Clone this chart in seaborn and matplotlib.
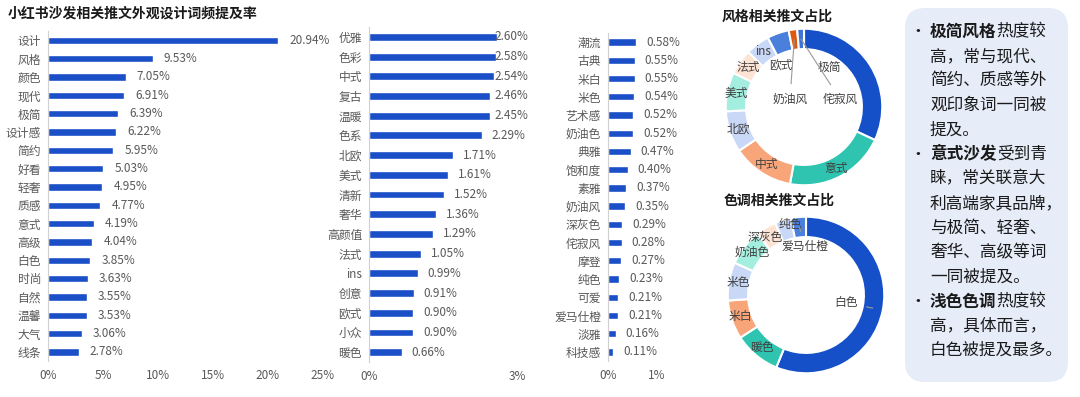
import numpy as np
import matplotlib
matplotlib.use("Agg")
import matplotlib.pyplot as plt
from matplotlib.patches import FancyBboxPatch
import seaborn as sns

# ---- data ----
words_1 = ['设计', '风格', '颜色', '现代', '极简', '设计感', '简约', '好看', '轻奢',
           '质感', '意式', '高级', '白色', '时尚', '自然', '温馨', '大气', '线条']
rates_1 = [20.94, 9.53, 7.05, 6.91, 6.39, 6.22, 5.95, 5.03, 4.95,
           4.77, 4.19, 4.04, 3.85, 3.63, 3.55, 3.53, 3.06, 2.78]

words_2 = ['优雅', '色彩', '中式', '复古', '温暖', '色系', '北欧', '美式', '清新',
           '奢华', '高颜值', '法式', 'ins', '创意', '欧式', '小众', '暖色']
rates_2 = [2.60, 2.58, 2.54, 2.46, 2.45, 2.29, 1.71, 1.61, 1.52,
           1.36, 1.29, 1.05, 0.99, 0.91, 0.90, 0.90, 0.66]

words_3 = ['潮流', '古典', '米白', '米色', '艺术感', '奶油色', '典雅', '饱和度',
           '素雅', '奶油风', '深灰色', '侘寂风', '摩登', '纯色', '可爱', '爱马仕橙',
           '淡雅', '科技感']
rates_3 = [0.58, 0.55, 0.55, 0.54, 0.52, 0.52, 0.47, 0.40,
           0.37, 0.35, 0.29, 0.28, 0.27, 0.23, 0.21, 0.21, 0.16, 0.11]

style_words = ['极简', '意式', '中式', '北欧', '美式', '法式', 'ins', '欧式', '奶油风', '侘寂风']
style_rates = [6.39, 4.19, 2.54, 1.71, 1.61, 1.05, 0.99, 0.90, 0.35, 0.28]

tone_words = ['白色', '暖色', '米白', '米色', '奶油色', '深灰色', '纯色', '爱马仕橙']
tone_rates = [3.85, 0.66, 0.55, 0.54, 0.52, 0.29, 0.23, 0.21]

notes = [
    ('极简风格', ['热度较', '高，常与现代、', '简约、质感等外', '观印象词一同被', '提及。']),
    ('意式沙发', ['受到青', '睐，常关联意大', '利高端家具品牌，', '与极简、轻奢、', '奢华、高级等词', '一同被提及。']),
    ('浅色色调', ['热度较', '高，具体而言，', '白色被提及最多。']),
]

# ---- style ----
sns.set_style('white')
plt.rcParams['font.family'] = ['Noto Sans CJK SC', 'DejaVu Sans']
BAR = '#1a4fc8'
GREY = '#595959'
pie_colors = ['#1650c8', '#2ec4b0', '#f9a57a', '#c9d8f6', '#a3eedf',
              '#fde3d3', '#c9d8f6', '#4a7fdc', '#e0580c', '#3d72d6']

W, H = 1080, 397
fig = plt.figure(figsize=(W / 100, H / 100), dpi=100)


def px_axes(left, top, right, bottom):
    return fig.add_axes([left / W, 1 - bottom / H, (right - left) / W, (bottom - top) / H])


def bar_panel(ax, words, rates, xmax, ticks, pad, cap=None):
    sns.barplot(x=rates, y=words, orient='h', color=BAR, width=0.4,
                saturation=1, ax=ax)
    ax.set_xlim(0, xmax)
    ax.set_xticks(ticks)
    ax.set_xticklabels([f'{t:g}%' for t in ticks])
    ax.set_xlabel('')
    ax.set_ylabel('')
    for s in ['top', 'right', 'bottom']:
        ax.spines[s].set_visible(False)
    ax.spines['left'].set_color('#d0d0d0')
    ax.tick_params(axis='both', length=0, labelsize=8.5, labelcolor=GREY)
    ax.tick_params(axis='x', pad=6)
    ax.tick_params(axis='y', pad=5)
    for i, v in enumerate(rates):
        x = v + pad
        if cap is not None:
            x = min(x, cap)
        ax.text(x, i, f'{v:.2f}%', va='center', ha='left', fontsize=8.5,
                color=GREY, clip_on=False)


ax1 = px_axes(48, 31, 323, 361)
bar_panel(ax1, words_1, rates_1, 25, [0, 5, 10, 15, 20, 25], 1.0)

ax2 = px_axes(369, 27, 517, 362)
bar_panel(ax2, words_2, rates_2, 3, [0, 3], 0.2, cap=2.55)

ax3 = px_axes(608, 33, 657, 361)
bar_panel(ax3, words_3, rates_3, 1, [0, 1], 0.2)


def donut(ax, words, rates, special):
    ax.pie(rates, colors=pie_colors[:len(rates)], startangle=90, counterclock=False,
           wedgeprops=dict(width=0.26, edgecolor='white', linewidth=1.5))
    ax.set_xlim(-1.15, 1.15)
    ax.set_ylim(-1.15, 1.15)
    ax.set_aspect('equal')
    ax.axis('off')
    total = sum(rates)
    cum = np.cumsum(rates) - np.array(rates) / 2
    for w, c in zip(words, cum):
        ang = np.deg2rad(90 - 360 * c / total)
        ring = (0.87 * np.cos(ang), 0.87 * np.sin(ang))
        if w in special:
            pos, line = special[w]
            if line:
                ax.annotate(w, xy=ring, xytext=pos, ha='center', va='center',
                            fontsize=8.5, color='#404040',
                            arrowprops=dict(arrowstyle='-', color='#9a9a9a', lw=0.8,
                                            shrinkA=4, shrinkB=0))
            else:
                ax.text(pos[0], pos[1], w, ha='center', va='center',
                        fontsize=8.5, color='#404040')
        else:
            ax.text(ring[0] * 1.01, ring[1] * 1.01, w, ha='center', va='center',
                    fontsize=8.5, color='#404040')


axd1 = px_axes(714, 17, 894, 197)
donut(axd1, style_words, style_rates, {
    '极简': ((0.33, 0.51), False),
    '欧式': ((-0.29, 0.53), False),
    '奶油风': ((-0.18, 0.10), True),
    '侘寂风': ((0.46, 0.10), True),
})

axd2 = px_axes(716, 205, 896, 385)
donut(axd2, tone_words, tone_rates, {
    '白色': ((0.51, -0.10), True),
    '爱马仕橙': ((-0.01, 0.62), True),
    '深灰色': ((-0.52, 0.74), False),
    '纯色': ((-0.20, 0.90), False),
})

# ---- overlay for titles and note box ----
ov = fig.add_axes([0, 0, 1, 1])
ov.set_xlim(0, W)
ov.set_ylim(H, 0)
ov.axis('off')
ov.patch.set_alpha(0)

ov.text(8, 14, '小红书沙发相关推文外观设计词频提及率', fontsize=10, fontweight='bold',
        va='center', ha='left', color='#1a1a1a')
ov.text(722, 17, '风格相关推文占比', fontsize=10, fontweight='bold',
        va='center', ha='left', color='#1a1a1a')
ov.text(724, 201, '色调相关推文占比', fontsize=10, fontweight='bold',
        va='center', ha='left', color='#1a1a1a')

ov.add_patch(FancyBboxPatch((905, 8), 163, 374,
                            boxstyle='round,pad=0,rounding_size=20',
                            facecolor='#e6ecf8', edgecolor='none'))

fs = 12
cw = fs * 100 / 72
y = 32
for bold, lines in notes:
    ov.text(918, y, '•', fontsize=fs, va='center', ha='center', color='#1a1a1a')
    ov.text(930, y, bold, fontsize=fs, fontweight='bold', va='center', ha='left',
            color='#1a1a1a')
    ov.text(930 + len(bold) * cw, y, lines[0], fontsize=fs, va='center', ha='left',
            color='#1a1a1a')
    y += 24.5
    for ln in lines[1:]:
        ov.text(930, y, ln, fontsize=fs, va='center', ha='left', color='#1a1a1a')
        y += 24.5

fig.savefig('out.png', dpi=100)
